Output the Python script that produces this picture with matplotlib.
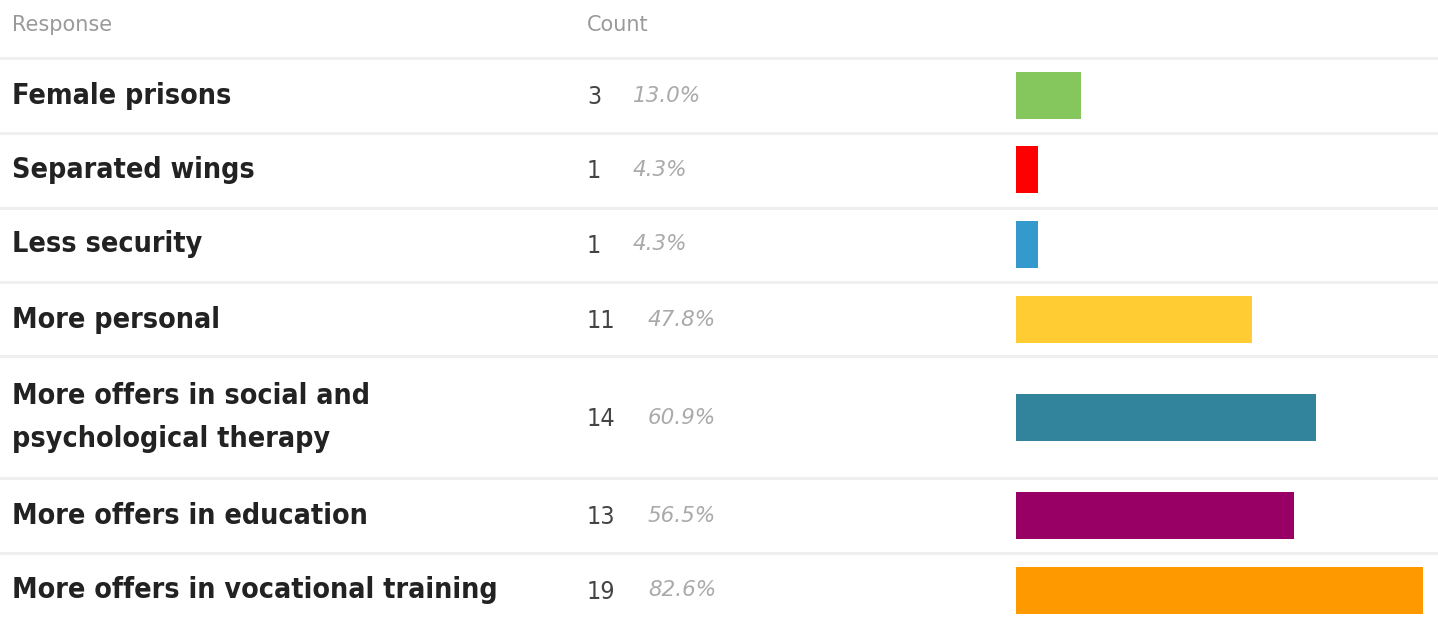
import matplotlib.pyplot as plt

# survey answers, n = 23 respondents
responses = [
    "Female prisons",
    "Separated wings",
    "Less security",
    "More personal",
    "More offers in social and\npsychological therapy",
    "More offers in education",
    "More offers in vocational training",
]
counts = [3, 1, 1, 11, 14, 13, 19]
percents = ["13.0%", "4.3%", "4.3%", "47.8%", "60.9%", "56.5%", "82.6%"]
bar_colors = ["#85c75c", "#ff0000", "#3499cc", "#ffcc33", "#31849b", "#990066", "#ff9900"]

W, H = 1438, 618
row_mid = [95.5, 169.5, 244.5, 319.5, 417.5, 515.5, 590.5]
row_lines = [57.5, 132.5, 207.5, 281.5, 356.0, 478.0, 552.5]

fig = plt.figure(figsize=(W / 100, H / 100), dpi=100, facecolor="white")
ax = fig.add_axes([0, 0, 1, 1])
ax.set_xlim(0, W)
ax.set_ylim(H, 0)
ax.axis("off")

NARROW = dict(family="DejaVu Sans", stretch="condensed")

# header
ax.text(12, 25, "Response", color="#9a9a9a", fontsize=15, va="center",
        family="DejaVu Sans")
ax.text(587, 25, "Count", color="#9a9a9a", fontsize=15, va="center",
        family="DejaVu Sans")

for y in row_lines:
    ax.axhline(y, color="#efefef", linewidth=2.2)

for y, label, n, pct in zip(row_mid, responses, counts, percents):
    ax.text(12, y, label, color="#222222", fontsize=20.5, fontweight="bold",
            va="center", linespacing=1.68, **NARROW)
    ax.text(587, y + 1.5, str(n), color="#444444", fontsize=18, va="center", **NARROW)
    pct_x = 633 if n < 10 else 648
    ax.text(pct_x, y, pct, color="#aaaaaa", fontsize=15.5, style="italic",
            va="center", family="DejaVu Sans")

# bars share the pixel rows of the table, counts on x
bar_left = 1016.5
bax = fig.add_axes([bar_left / W, 0, (W - bar_left) / W, 1])
bax.set_ylim(H, 0)
bax.set_xlim(0, (W - bar_left) / 21.37)
bax.barh(row_mid, counts, height=47, color=bar_colors)
bax.axis("off")

fig.savefig("out.png", dpi=100, facecolor="white")
